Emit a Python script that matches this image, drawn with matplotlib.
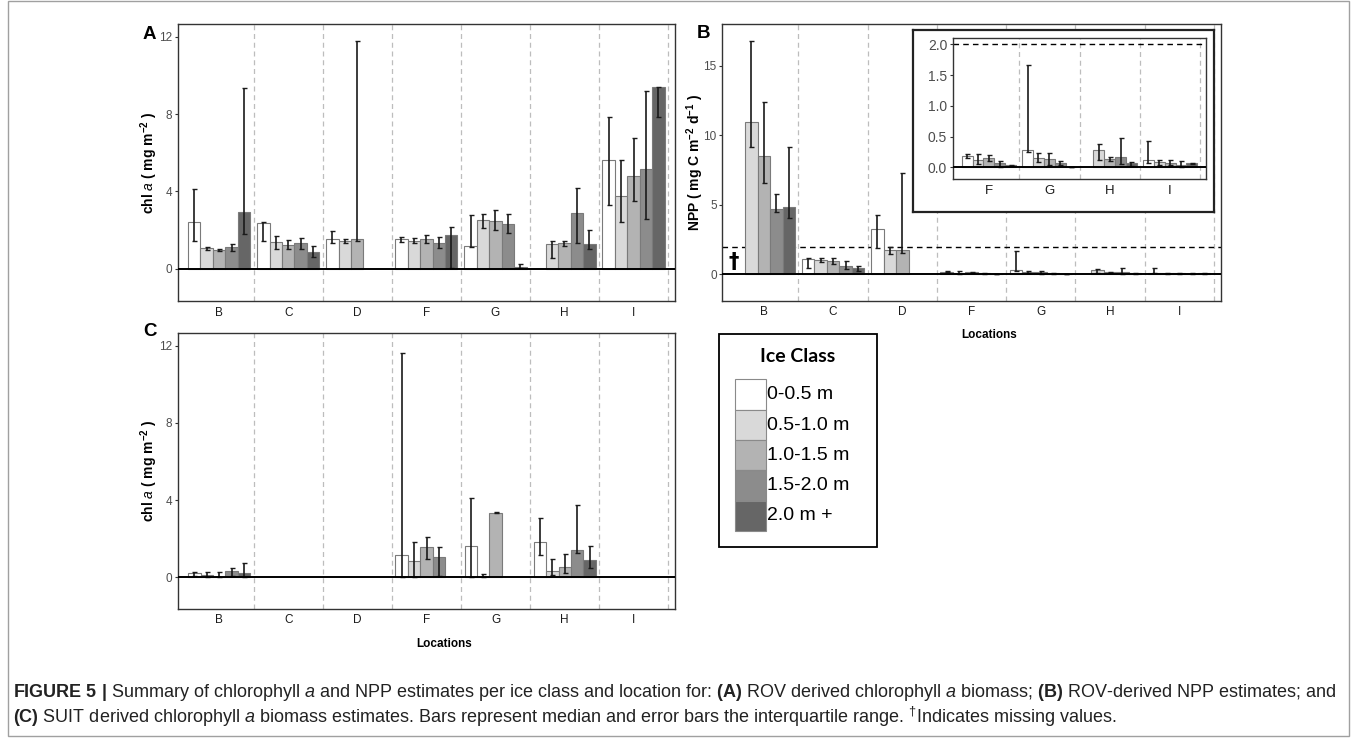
import numpy as np
import matplotlib
matplotlib.use("Agg")
import matplotlib.pyplot as plt
from matplotlib.patches import Rectangle
from matplotlib.ticker import FormatStrFormatter

plt.rcParams['font.family'] = ['Liberation Sans', 'DejaVu Sans']
plt.rcParams['mathtext.fontset'] = 'custom'
plt.rcParams['mathtext.rm'] = 'Liberation Sans'
plt.rcParams['mathtext.it'] = 'Liberation Sans:italic'
plt.rcParams['mathtext.bf'] = 'Liberation Sans:bold'
plt.rcParams['mathtext.sf'] = 'Liberation Sans'

nan = np.nan

# ---- data (median, q1, q3 per location x ice class) ----
locations = ['B', 'C', 'D', 'F', 'G', 'H', 'I']
ice_classes = ['0-0.5 m', '0.5-1.0 m', '1.0-1.5 m', '1.5-2.0 m', '2.0 m +']
class_colors = ['#ffffff', '#d9d9d9', '#b3b3b3', '#8c8c8c', '#666666']

# A: ROV chl a
chl_rov_median = [
    [2.43, 1.05, 0.97, 1.10, 2.91],
    [2.34, 1.38, 1.24, 1.31, 0.86],
    [1.52, 1.45, 1.53, nan, nan],
    [1.53, 1.43, 1.53, 1.31, 1.72],
    [1.17, 2.53, 2.48, 2.29, 0.10],
    [nan, 1.26, 1.31, 2.86, 1.28],
    [5.62, 3.76, 4.79, 5.14, 9.38],
]
chl_rov_q1 = [
    [1.45, 0.97, 0.90, 0.90, 1.79],
    [1.43, 1.03, 1.00, 1.00, 0.59],
    [1.34, 1.34, 1.45, nan, nan],
    [1.40, 1.31, 1.34, 1.09, 0.02],
    [1.10, 2.12, 2.00, 1.83, 0.02],
    [nan, 0.53, 1.17, 1.31, 1.03],
    [3.29, 2.40, 3.52, 2.59, 7.86],
]
chl_rov_q3 = [
    [4.14, 1.10, 1.03, 1.28, 9.36],
    [2.41, 1.69, 1.48, 1.59, 1.17],
    [1.97, 1.52, 11.78, nan, nan],
    [1.66, 1.57, 1.74, 1.66, 2.17],
    [2.79, 2.83, 3.03, 2.81, 0.22],
    [nan, 1.41, 1.45, 4.19, 2.00],
    [7.84, 5.60, 6.74, 9.19, 9.38],
]

# B: ROV NPP
npp_median = [
    [nan, 10.93, 8.51, 4.70, 4.86],
    [1.13, 1.03, 0.96, 0.58, 0.43],
    [3.28, 1.73, 1.77, nan, nan],
    [0.184, 0.125, 0.146, 0.065, 0.033],
    [0.29, 0.15, 0.135, 0.065, 0.005],
    [nan, 0.29, 0.135, 0.173, 0.065],
    [0.12, 0.08, 0.072, 0.043, 0.065],
]
npp_q1 = [
    [nan, 9.15, 6.59, 4.46, 4.03],
    [0.43, 0.91, 0.77, 0.38, 0.26],
    [1.87, 1.44, 1.56, nan, nan],
    [0.146, 0.05, 0.098, 0.01, 0.022],
    [0.255, 0.092, 0.038, 0.033, 0.003],
    [nan, 0.12, 0.108, 0.05, 0.027],
    [0.065, 0.038, 0.038, 0.0, 0.054],
]
npp_q3 = [
    [nan, 16.8, 12.39, 5.75, 9.18],
    [1.17, 1.20, 1.17, 0.98, 0.62],
    [4.24, 1.99, 7.33, nan, nan],
    [0.21, 0.21, 0.195, 0.098, 0.043],
    [1.66, 0.233, 0.233, 0.098, 0.007],
    [nan, 0.385, 0.163, 0.48, 0.092],
    [0.43, 0.125, 0.12, 0.098, 0.076],
]

# C: SUIT chl a
chl_suit_median = [
    [0.21, 0.10, 0.02, 0.33, 0.21],
    [nan, nan, nan, nan, nan],
    [nan, nan, nan, nan, nan],
    [1.14, 0.83, 1.57, 1.04, nan],
    [1.62, 0.02, 3.35, nan, nan],
    [1.85, 0.31, 0.54, 1.43, 0.90],
    [nan, nan, nan, nan, nan],
]
chl_suit_q1 = [
    [0.07, 0.0, 0.0, 0.09, 0.0],
    [nan, nan, nan, nan, nan],
    [nan, nan, nan, nan, nan],
    [0.0, 0.03, 0.93, 0.07, nan],
    [0.03, 0.0, 3.33, nan, nan],
    [1.14, 0.10, 0.22, 1.26, 0.47],
    [nan, nan, nan, nan, nan],
]
chl_suit_q3 = [
    [0.29, 0.26, 0.26, 0.47, 0.74],
    [nan, nan, nan, nan, nan],
    [nan, nan, nan, nan, nan],
    [11.6, 1.80, 2.07, 1.57, nan],
    [4.09, 0.15, 3.37, nan, nan],
    [3.09, 0.93, 1.19, 3.75, 1.61],
    [nan, nan, nan, nan, nan],
]

W, H = 1357, 738
fig = plt.figure(figsize=(W / 100, H / 100), dpi=100)


def px_axes(x0, y0, x1, y1, **kw):
    return fig.add_axes([x0 / W, 1 - y1 / H, (x1 - x0) / W, (y1 - y0) / H], **kw)


BW = 0.18


def bar_panel(ax, labels, med, q1, q3, ylim, yticks, tick_fs=8.5, cat_fs=8.5):
    med = np.array(med, float)
    q1 = np.array(q1, float)
    q3 = np.array(q3, float)
    n = len(labels)
    for k in range(n):
        ax.axvline(k + 0.5, color='#bdbdbd', lw=0.9, ls=(0, (4, 3)), zorder=0)
    for j in range(5):
        x = np.arange(n) + (j - 2) * BW
        ok = ~np.isnan(med[:, j])
        ax.bar(x[ok], med[ok, j], width=BW, color=class_colors[j],
               edgecolor='#7a7a7a', linewidth=0.8, zorder=2)
        ax.errorbar(x[ok], med[ok, j],
                    yerr=[med[ok, j] - q1[ok, j], q3[ok, j] - med[ok, j]],
                    fmt='none', ecolor='#1a1a1a', elinewidth=1.2,
                    capsize=1.8, capthick=1.0, zorder=3)
    ax.axhline(0, color='black', lw=1.4, zorder=4)
    ax.set_xlim(-0.6, n - 0.4)
    ax.set_ylim(*ylim)
    ax.set_yticks(yticks)
    ax.set_xticks(np.arange(n))
    ax.set_xticklabels(labels)
    ax.tick_params(axis='y', length=2.5, width=0.8, color='#333333',
                   labelcolor='#4d4d4d', labelsize=tick_fs, pad=1.5)
    ax.tick_params(axis='x', length=0, labelcolor='#1a1a1a',
                   labelsize=cat_fs, pad=4)
    for s in ax.spines.values():
        s.set_color('#333333')
        s.set_linewidth(1.0)


chl_label = r'chl $a$ ( mg m$^{\mathbf{-2}}$ )'

# Panel A
axA = px_axes(177.7, 24, 675, 301)
bar_panel(axA, locations, chl_rov_median, chl_rov_q1, chl_rov_q3,
          (-1.67, 12.66), [0, 4, 8, 12])
axA.set_ylabel(chl_label, fontsize=10, fontweight='bold')
axA.yaxis.set_label_coords(-0.036, 0.5)

# Panel B
axB = px_axes(722.3, 24.3, 1220.7, 300.7)
bar_panel(axB, locations, npp_median, npp_q1, npp_q3,
          (-1.9, 18.0), [0, 5, 10, 15])
axB.axhline(2, color='black', lw=1.0, ls=(0, (4, 3)), zorder=1)
axB.text(-0.43, 0.9, '\u2020', fontsize=15, fontweight='bold',
         ha='center', va='center', family='DejaVu Sans')
axB.set_ylabel(r'NPP ( mg C m$^{\mathbf{-2}}$ d$^{\mathbf{-1}}$ )',
               fontsize=10, fontweight='bold')
axB.yaxis.set_label_coords(-0.033, 0.5)

# inset frame + inset axes
frame = px_axes(912.7, 30, 1214.3, 211.7)
frame.set_xticks([])
frame.set_yticks([])
frame.set_facecolor('white')
for s in frame.spines.values():
    s.set_color('#222222')
    s.set_linewidth(1.6)

axI = px_axes(952.7, 38.3, 1206.3, 179.3)
bar_panel(axI, locations[3:], npp_median[3:], npp_q1[3:], npp_q3[3:],
          (-0.195, 2.1), [0.0, 0.5, 1.0, 1.5, 2.0], tick_fs=10, cat_fs=9.5)
axI.yaxis.set_major_formatter(FormatStrFormatter('%.1f'))
axI.axhline(2, color='black', lw=1.0, ls=(0, (4, 3)), zorder=1)

# Panel C
axC = px_axes(177.7, 332.7, 675.3, 608.7)
bar_panel(axC, locations, chl_suit_median, chl_suit_q1, chl_suit_q3,
          (-1.63, 12.67), [0, 4, 8, 12])
axC.set_ylabel(chl_label, fontsize=10, fontweight='bold')
axC.yaxis.set_label_coords(-0.036, 0.5)

# overlay for letters, legend, caption
ov = fig.add_axes([0, 0, 1, 1], zorder=10)
ov.set_xlim(0, W)
ov.set_ylim(H, 0)
ov.axis('off')
ov.patch.set_alpha(0)

ov.add_patch(Rectangle((8, 1), 1341, 735, fill=False, ec='#a0a0a0', lw=1.0))

for lab, x, y in [('A', 143, 39), ('B', 697, 38.5), ('C', 143, 336)]:
    ov.text(x, y, lab, fontsize=13.5, fontweight='bold', ha='left', va='baseline')

ov.text(989, 335, 'Locations', fontsize=8.5, fontweight='bold', ha='center', va='center')
ov.text(444, 644, 'Locations', fontsize=8.5, fontweight='bold', ha='center', va='center')

# legend
ov.add_patch(Rectangle((719, 334.3), 158, 213, fill=False, ec='black', lw=1.3))
ov.text(797.7, 357, 'Ice Class', family='Lato', fontweight='bold', fontsize=14,
        ha='center', va='center')
for j, lab in enumerate(ice_classes):
    y0 = 379.3 + j * 30.3
    ov.add_patch(Rectangle((735.3, y0), 30.4, 30.3, fc=class_colors[j],
                           ec='#8a8a8a', lw=0.8))
    ov.text(767, y0 + 15.5, lab, fontsize=14, ha='left', va='center')

cap1 = (r'$\mathbf{FIGURE\ 5\ |}$ Summary of chlorophyll $a$ and NPP estimates per ice class '
        r'and location for: $\mathbf{(A)}$ ROV derived chlorophyll $a$ biomass; '
        r'$\mathbf{(B)}$ ROV-derived NPP estimates; and')
cap2 = (r'$\mathbf{(C)}$ SUIT derived chlorophyll $a$ biomass estimates. Bars represent median '
        r'and error bars the interquartile range. $^{\dagger}$Indicates missing values.')
ov.text(13, 697, cap1, fontsize=13.0, ha='left', va='baseline', color='#222222')
ov.text(13, 723, cap2, fontsize=13.0, ha='left', va='baseline', color='#222222')

fig.savefig('out.png', dpi=100)
